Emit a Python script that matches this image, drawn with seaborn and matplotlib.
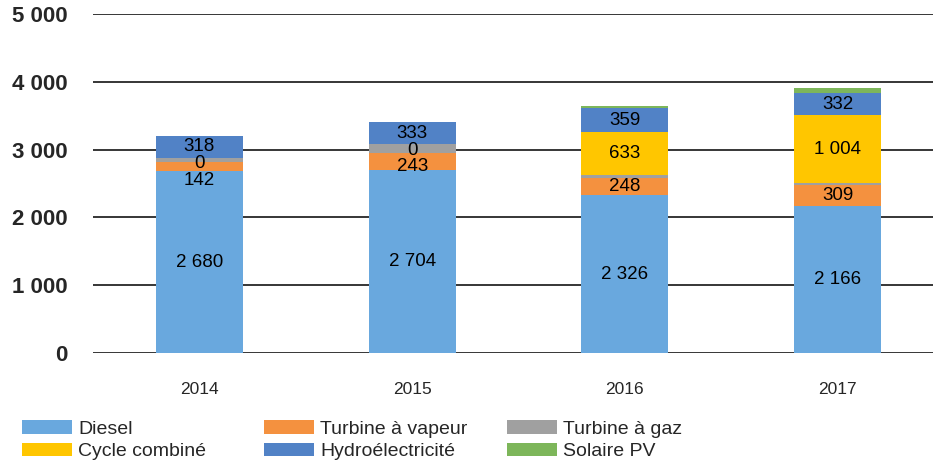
import matplotlib
matplotlib.use("Agg")
import matplotlib.pyplot as plt
import seaborn as sns
import numpy as np
from matplotlib.patches import Patch

years = ["2014", "2015", "2016", "2017"]
diesel = [2680, 2704, 2326, 2166]
turbine_vapeur = [142, 243, 248, 309]
turbine_gaz = [60, 130, 50, 25]
cycle_combine = [0, 0, 633, 1004]
hydro = [318, 333, 359, 332]
solaire = [0, 0, 30, 70]

series_names = ["Diesel", "Turbine à vapeur", "Turbine à gaz",
                "Cycle combiné", "Hydroélectricité", "Solaire PV"]
series_values = [diesel, turbine_vapeur, turbine_gaz, cycle_combine, hydro, solaire]
series_colors = ["#69A8DE", "#F4913F", "#A0A0A0", "#FFC600", "#5182C6", "#7DB65A"]
labelled = [True, True, False, True, True, False]
y_ticks = [0, 1000, 2000, 3000, 4000, 5000]

sns.set_theme(style="white")
plt.rcParams["font.family"] = ["Liberation Sans", "DejaVu Sans"]

W, H = 933, 473
fig = plt.figure(figsize=(W / 100, H / 100), dpi=100)
ax = fig.add_axes([93 / W, 1 - 353 / H, 851 / W, (353 - 14) / H])

bottom = np.zeros(len(years))
tops = []
for name, vals, col in zip(series_names, series_values, series_colors):
    vals = np.array(vals, dtype=float)
    sns.barplot(x=years, y=vals, bottom=bottom, color=col, width=0.41,
                ax=ax, label=name, saturation=1, linewidth=0)
    tops.append((bottom.copy(), vals))
    bottom = bottom + vals

ax.set_xlim(-0.5, 3.5)
ax.set_ylim(0, 5000)
ax.set_yticks(y_ticks)
ax.set_yticklabels([f"{v:,}".replace(",", " ") for v in y_ticks],
                   fontsize=16, fontweight="bold")
ax.tick_params(axis="y", length=0, pad=18)
ax.tick_params(axis="x", length=0, pad=21, labelsize=12.5)
for v in y_ticks:
    ax.axhline(v, color="black", lw=1.1, zorder=0)
for s in ax.spines.values():
    s.set_visible(False)
ax.set_xlabel("")
ax.set_ylabel("")
if ax.get_legend():
    ax.get_legend().remove()

# data labels (top to bottom, with minimum spacing)
min_gap = 250
for i in range(len(years)):
    labels = []
    for k in range(len(series_names)):
        if not labelled[k]:
            continue
        b, v = tops[k]
        labels.append((b[i] + v[i] / 2, v[i]))
    labels.sort(key=lambda t: -t[0])
    prev = None
    for ypos, val in labels:
        if prev is not None and prev - ypos < min_gap:
            ypos = prev - min_gap
        ax.text(i, ypos, f"{int(val):,}".replace(",", " "), ha="center",
                va="center", fontsize=13.5, color="black")
        prev = ypos

# legend in three columns
handles = [Patch(facecolor=c, edgecolor="none") for c in series_colors]
cols = [(0, 3, 22), (1, 4, 264), (2, 5, 507)]
for a, b, xpx in cols:
    leg = fig.legend([handles[a], handles[b]], [series_names[a], series_names[b]],
                     loc="upper left", bbox_to_anchor=(xpx / W, 1 - 420 / H),
                     frameon=False, fontsize=14, handlelength=2.58,
                     handleheight=0.72, handletextpad=0.3, labelspacing=0.25,
                     borderpad=0, borderaxespad=0)

fig.savefig("out.png", dpi=100)
